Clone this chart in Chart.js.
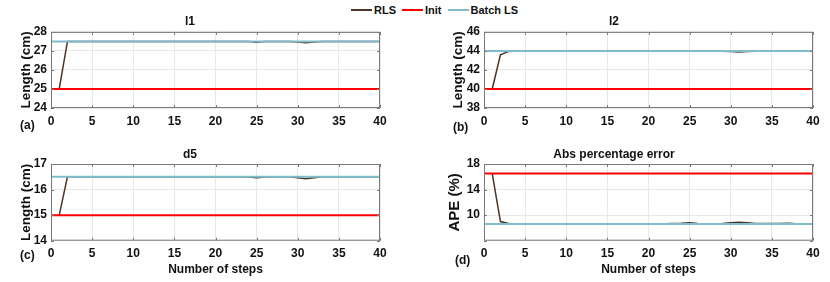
<!DOCTYPE html>
<html>
<head>
<meta charset="utf-8">
<script src="https://cdn.jsdelivr.net/npm/chart.js@4.4.1/dist/chart.umd.min.js"></script>
<style>
  body { margin: 0; background: #fff; width: 830px; height: 282px; position: relative; overflow: hidden;
         font-family: "Liberation Sans", Arial, sans-serif; }
  canvas { position: absolute; }
  .lbl { position: absolute; font-weight: bold; font-size: 12px; color: #111; }
  #legend { position: absolute; top: 4px; left: 351px; font-size: 11px; font-weight: bold; color: #111;
            display: flex; align-items: center; white-space: nowrap; }
  #legend .sw { display: inline-block; width: 21px; height: 2px; margin-right: 2px; }
  #legend .it { display: flex; align-items: center; margin-right: 6px; }
</style>
</head>
<body>
<div id="legend"></div>
<canvas id="cA" width="415" height="140" style="left:0;top:0"></canvas>
<canvas id="cB" width="415" height="140" style="left:415px;top:0"></canvas>
<canvas id="cC" width="415" height="142" style="left:0;top:140px"></canvas>
<canvas id="cD" width="415" height="142" style="left:415px;top:140px"></canvas>
<span class="lbl" style="left:20px;top:118px">(a)</span>
<span class="lbl" style="left:453px;top:120px">(b)</span>
<span class="lbl" style="left:20px;top:248px">(c)</span>
<span class="lbl" style="left:455px;top:253px">(d)</span>
<script>
// data
const seriesNames = ["RLS", "Init", "Batch LS"];
const steps = [1,2,3,4,5,6,7,8,9,10,11,12,13,14,15,16,17,18,19,20,21,22,23,24,25,26,27,28,29,30,31,32,33,34,35,36,37,38,39,40];
const flatX = [0, 40];

const l1Rls = [25, 27.5, 27.5, 27.5, 27.5, 27.5, 27.5, 27.5, 27.5, 27.5,
  27.5, 27.5, 27.5, 27.5, 27.5, 27.5, 27.5, 27.5, 27.5, 27.5,
  27.5, 27.5, 27.5, 27.49, 27.46, 27.49, 27.5, 27.5, 27.5, 27.47,
  27.43, 27.47, 27.5, 27.5, 27.5, 27.5, 27.5, 27.5, 27.5, 27.5];
const l1Init = [25, 25];
const l1Batch = [27.5, 27.5];

const l2Rls = [40, 43.6, 43.95, 44, 44, 44, 44, 44, 44, 44,
  44, 44, 44, 44, 44, 44, 44, 44, 44, 44,
  44, 44, 44, 44, 43.97, 44, 44, 44, 43.97, 43.93,
  43.9, 43.94, 43.97, 44, 44, 43.98, 43.96, 44, 44, 44];
const l2Init = [40, 40];
const l2Batch = [44, 44];

const d5Rls = [15, 16.5, 16.5, 16.5, 16.5, 16.5, 16.5, 16.5, 16.5, 16.5,
  16.5, 16.5, 16.5, 16.5, 16.5, 16.5, 16.5, 16.5, 16.5, 16.5,
  16.5, 16.5, 16.5, 16.49, 16.46, 16.49, 16.5, 16.5, 16.5, 16.46,
  16.42, 16.46, 16.5, 16.5, 16.5, 16.5, 16.5, 16.5, 16.5, 16.5];
const d5Init = [15, 15];
const d5Batch = [16.5, 16.5];

const apeRls = [16.5, 9.0, 8.7, 8.65, 8.65, 8.65, 8.65, 8.65, 8.65, 8.65,
  8.65, 8.65, 8.65, 8.65, 8.65, 8.65, 8.65, 8.65, 8.65, 8.65,
  8.65, 8.65, 8.7, 8.72, 8.8, 8.7, 8.65, 8.65, 8.7, 8.8,
  8.9, 8.8, 8.7, 8.7, 8.7, 8.68, 8.72, 8.65, 8.65, 8.65];
const apeInit = [16.5, 16.5];
const apeBatch = [8.6, 8.6];

const colRls = "#4e3426";
const colInit = "#ff0000";
const colBatch = "#80bccb";
const FONT = "'Liberation Sans', Arial, sans-serif";

// html legend
const legendColors = [colRls, colInit, colBatch];
document.getElementById("legend").innerHTML = seriesNames.map((n, i) =>
  '<span class="it"><span class="sw" style="background:' + legendColors[i] + '"></span>' + n + '</span>').join("");

const pts = (xs, ys) => xs.map((x, i) => ({ x: x, y: ys[i] }));

// box + inward ticks like matlab
const boxPlugin = {
  id: "box",
  afterDraw(chart) {
    const { ctx, chartArea: a, scales } = chart;
    ctx.save();
    ctx.strokeStyle = "#7a7a7a";
    ctx.lineWidth = 1;
    ctx.strokeRect(a.left + 0.5, a.top + 0.5, a.right - a.left - 1, a.bottom - a.top - 1);
    ctx.beginPath();
    scales.x.ticks.forEach(t => {
      const px = Math.round(scales.x.getPixelForValue(t.value)) + 0.5;
      ctx.moveTo(px, a.bottom); ctx.lineTo(px, a.bottom - 3);
      ctx.moveTo(px, a.top); ctx.lineTo(px, a.top + 3);
    });
    scales.y.ticks.forEach(t => {
      const py = Math.round(scales.y.getPixelForValue(t.value)) + 0.5;
      ctx.moveTo(a.left, py); ctx.lineTo(a.left + 3, py);
      ctx.moveTo(a.right, py); ctx.lineTo(a.right - 3, py);
    });
    ctx.stroke();
    ctx.restore();
  }
};

function makeChart(id, cfg) {
  return new Chart(id, {
    type: "line",
    data: {
      datasets: [
        { label: seriesNames[2], data: pts(flatX, cfg.batch), borderColor: colBatch, borderWidth: 2, order: 0 },
        { label: seriesNames[1], data: pts(flatX, cfg.init), borderColor: colInit, borderWidth: 2, order: 1 },
        { label: seriesNames[0], data: pts(steps, cfg.rls), borderColor: colRls, borderWidth: 1.5, order: 2 },
      ],
    },
    options: {
      responsive: false,
      animation: false,
      elements: { point: { radius: 0 }, line: { tension: 0 } },
      layout: { padding: { left: 0, right: cfg.padRight, top: 0, bottom: 0 } },
      plugins: {
        legend: { display: false },
        tooltip: { enabled: false },
        title: {
          display: true,
          text: cfg.title,
          color: "#111",
          font: { family: FONT, size: 12, weight: "bold" },
          padding: { top: cfg.titleTop, bottom: cfg.titleBottom },
        },
      },
      scales: {
        x: {
          type: "linear",
          min: 0, max: 40,
          afterFit: s => { s.height = cfg.xHeight; },
          grid: { color: "#e8e8e8", drawTicks: false },
          border: { display: false },
          ticks: { stepSize: 5, padding: 6, color: "#111", font: { family: FONT, size: 12, weight: "bold" } },
          title: {
            display: !!cfg.xTitle,
            text: cfg.xTitle || "",
            color: "#111",
            font: { family: FONT, size: 12, weight: "bold" },
            padding: { top: 0, bottom: 5 },
          },
        },
        y: {
          min: cfg.ymin, max: cfg.ymax,
          afterFit: s => { s.width = cfg.yWidth; },
          grid: { color: "#e8e8e8", drawTicks: false },
          border: { display: false },
          ticks: {
            stepSize: cfg.ystep, padding: 4, color: "#111",
            font: { family: FONT, size: 12, weight: "bold" },
            callback: v => (cfg.hideMin && v === cfg.ymin) ? "" : v,
          },
          title: {
            display: true,
            text: cfg.yTitle,
            color: "#111",
            font: { family: FONT, size: cfg.yTitleSize, weight: "bold" },
            padding: { top: cfg.yTitlePad, bottom: 0 },
          },
        },
      },
    },
    plugins: [boxPlugin],
  });
}

makeChart("cA", { title: "l1", rls: l1Rls, init: l1Init, batch: l1Batch, ymin: 24, ymax: 28, ystep: 1,
  yTitle: "Length (cm)", yTitleSize: 13.5, padRight: 35, yWidth: 51, yTitlePad: 18.6, titleTop: 14.5, titleBottom: 3, xHeight: 32 });
makeChart("cB", { title: "l2", rls: l2Rls, init: l2Init, batch: l2Batch, ymin: 38, ymax: 46, ystep: 2,
  yTitle: "Length (cm)", yTitleSize: 13.5, padRight: 17, yWidth: 69, yTitlePad: 34.9, titleTop: 14.5, titleBottom: 3, xHeight: 32 });
makeChart("cC", { title: "d5", rls: d5Rls, init: d5Init, batch: d5Batch, ymin: 14, ymax: 17, ystep: 1,
  yTitle: "Length (cm)", yTitleSize: 13.5, padRight: 35, yWidth: 51, yTitlePad: 18.6, titleTop: 7.8, titleBottom: 1.8, xHeight: 41.3,
  xTitle: "Number of steps" });
makeChart("cD", { title: "Abs percentage error", rls: apeRls, init: apeInit, batch: apeBatch, ymin: 6, ymax: 18, ystep: 2,
  hideMin: true, yTitle: "APE (%)", yTitleSize: 15, padRight: 17, yWidth: 69, yTitlePad: 31, titleTop: 7.8, titleBottom: 1.8, xHeight: 41.3,
  xTitle: "Number of steps" });
</script>
</body>
</html>
